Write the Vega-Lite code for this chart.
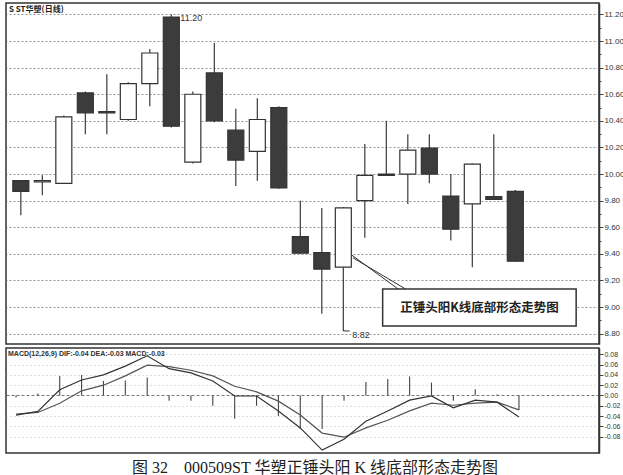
{
  "$schema": "https://vega.github.io/schema/vega-lite/v6.json",
  "background": "white",
  "padding": {"left": 5, "top": 2, "right": 0, "bottom": 0},
  "spacing": 2,
  "config": {
    "font": "Liberation Sans",
    "view": {"stroke": "#333", "strokeWidth": 1.5},
    "axis": {"labelColor": "#333", "labelFontSize": 8, "domainColor": "#333", "domainWidth": 1.5, "tickColor": "#444", "labelPadding": 1}
  },
  "title": {
    "text": "图 32　000509ST 华塑正锤头阳 K 线底部形态走势图",
    "orient": "bottom",
    "anchor": "middle",
    "font": "Liberation Serif, Noto Sans CJK SC",
    "fontSize": 16,
    "fontWeight": "normal",
    "color": "#222",
    "offset": 6
  },
  "datasets": {
    "k": [
      {"i": 1, "open": 9.95, "high": 9.95, "low": 9.69, "close": 9.87, "dif": -0.038, "dea": -0.036, "macd": -0.004},
      {"i": 2, "open": 9.94, "high": 9.99, "low": 9.84, "close": 9.95, "dif": -0.031, "dea": -0.033, "macd": 0.004},
      {"i": 3, "open": 9.93, "high": 10.44, "low": 9.93, "close": 10.43, "dif": 0.011, "dea": -0.015, "macd": 0.038},
      {"i": 4, "open": 10.61, "high": 10.62, "low": 10.30, "close": 10.46, "dif": 0.030, "dea": 0.009, "macd": 0.040},
      {"i": 5, "open": 10.47, "high": 10.75, "low": 10.30, "close": 10.46, "dif": 0.040, "dea": 0.020, "macd": 0.028},
      {"i": 6, "open": 10.41, "high": 10.69, "low": 10.40, "close": 10.68, "dif": 0.057, "dea": 0.038, "macd": 0.029},
      {"i": 7, "open": 10.68, "high": 10.94, "low": 10.51, "close": 10.91, "dif": 0.077, "dea": 0.059, "macd": 0.035},
      {"i": 8, "open": 11.18, "high": 11.20, "low": 10.35, "close": 10.36, "dif": 0.052, "dea": 0.056, "macd": -0.010},
      {"i": 9, "open": 10.09, "high": 10.62, "low": 10.08, "close": 10.60, "dif": 0.044, "dea": 0.049, "macd": -0.010},
      {"i": 10, "open": 10.76, "high": 10.985, "low": 10.39, "close": 10.40, "dif": 0.028, "dea": 0.038, "macd": -0.020},
      {"i": 11, "open": 10.33, "high": 10.49, "low": 9.91, "close": 10.105, "dif": -0.001, "dea": 0.018, "macd": -0.045},
      {"i": 12, "open": 10.17, "high": 10.57, "low": 9.95, "close": 10.41, "dif": -0.001, "dea": 0.007, "macd": -0.020},
      {"i": 13, "open": 10.50, "high": 10.51, "low": 9.89, "close": 9.895, "dif": -0.030, "dea": -0.011, "macd": -0.040},
      {"i": 14, "open": 9.53, "high": 9.80, "low": 9.40, "close": 9.405, "dif": -0.063, "dea": -0.038, "macd": -0.065},
      {"i": 15, "open": 9.41, "high": 9.745, "low": 8.95, "close": 9.285, "dif": -0.106, "dea": -0.073, "macd": -0.065},
      {"i": 16, "open": 9.30, "high": 9.75, "low": 8.82, "close": 9.745, "dif": -0.085, "dea": -0.081, "macd": -0.010},
      {"i": 17, "open": 9.80, "high": 10.225, "low": 9.52, "close": 9.99, "dif": -0.050, "dea": -0.063, "macd": 0.026},
      {"i": 18, "open": 9.99, "high": 10.40, "low": 9.99, "close": 10.00, "dif": -0.030, "dea": -0.048, "macd": 0.032},
      {"i": 19, "open": 10.00, "high": 10.30, "low": 9.775, "close": 10.18, "dif": -0.009, "dea": -0.030, "macd": 0.037},
      {"i": 20, "open": 10.195, "high": 10.30, "low": 9.93, "close": 10.00, "dif": -0.001, "dea": -0.015, "macd": 0.025},
      {"i": 21, "open": 9.835, "high": 10.00, "low": 9.50, "close": 9.585, "dif": -0.024, "dea": -0.019, "macd": -0.010},
      {"i": 22, "open": 9.775, "high": 10.08, "low": 9.30, "close": 10.075, "dif": -0.009, "dea": -0.015, "macd": 0.012},
      {"i": 23, "open": 9.83, "high": 10.30, "low": 9.81, "close": 9.81, "dif": -0.013, "dea": -0.013, "macd": 0.002},
      {"i": 24, "open": 9.87, "high": 9.88, "low": 9.34, "close": 9.345, "dif": -0.042, "dea": -0.028, "macd": -0.028}
    ],
    "callout": [
      {"x1": 16.40, "y1": 9.39, "x2": 18.55, "y2": 9.135},
      {"x1": 16.45, "y1": 9.37, "x2": 18.90, "y2": 9.135}
    ],
    "box": [
      {"x1": 17.83, "x2": 26.83, "y1": 9.135, "y2": 8.857, "xm": 22.33, "ym": 8.996, "label": "正锤头阳K线底部形态走势图"}
    ],
    "marks": [
      {"i": 8, "price": 11.20, "label": "11.20", "i2": 8},
      {"i": 16, "price": 8.82, "label": "8.82", "i2": 16.3}
    ]
  },
  "vconcat": [
    {
      "width": 593,
      "height": 341,
      "title": {"text": "S ST华塑(日线)", "anchor": "start", "orient": "top", "offset": -11, "fontSize": 8, "font": "Noto Sans CJK SC", "fontWeight": "bold", "color": "#222", "dx": 3},
      "layer": [
        {
          "data": {"name": "k"},
          "mark": {"type": "rule", "color": "#3a3a3a", "strokeWidth": 1.2},
          "encoding": {
            "x": {"field": "i", "type": "quantitative", "scale": {"domain": [0.543, 27.66], "nice": false, "zero": false}, "axis": null},
            "y": {
              "field": "low", "type": "quantitative",
              "scale": {"domain": [8.722, 11.286], "nice": false, "zero": false},
              "axis": {
                "orient": "right", "title": null,
                "values": [8.8, 8.9, 9.0, 9.1, 9.2, 9.3, 9.4, 9.5, 9.6, 9.7, 9.8, 9.9, 10.0, 10.1, 10.2, 10.3, 10.4, 10.5, 10.6, 10.7, 10.8, 10.9, 11.0, 11.1, 11.2],
                "tickCount": 100,
                "labelExpr": "round(datum.value*10)%2==0 ? format(datum.value, '.2f') : ''",
                "labelOverlap": false,
                "labelBound": false,
                "grid": true,
                "gridColor": "#777",
                "gridDash": [2, 2],
                "gridWidth": 0.8,
                "gridOpacity": {"condition": {"test": "round(datum.value*10)%2==0", "value": 1}, "value": 0},
                "tickSize": {"condition": {"test": "round(datum.value*10)%2==0", "value": 4}, "value": 2}
              }
            },
            "y2": {"field": "high"}
          }
        },
        {
          "data": {"name": "k"},
          "mark": {"type": "bar", "size": 16, "stroke": "#333", "strokeWidth": 1.2},
          "encoding": {
            "x": {"field": "i", "type": "quantitative"},
            "y": {"field": "open", "type": "quantitative"},
            "y2": {"field": "close"},
            "fill": {"condition": {"test": "datum.close >= datum.open", "value": "white"}, "value": "#3c3c3c"}
          }
        },
        {
          "data": {"name": "callout"},
          "mark": {"type": "rule", "color": "#333", "strokeWidth": 1},
          "encoding": {
            "x": {"field": "x1", "type": "quantitative"},
            "y": {"field": "y1", "type": "quantitative"},
            "x2": {"field": "x2"},
            "y2": {"field": "y2"}
          }
        },
        {
          "data": {"name": "box"},
          "mark": {"type": "rect", "fill": "white", "stroke": "#333", "strokeWidth": 1.5},
          "encoding": {
            "x": {"field": "x1", "type": "quantitative"},
            "x2": {"field": "x2"},
            "y": {"field": "y1", "type": "quantitative"},
            "y2": {"field": "y2"}
          }
        },
        {
          "data": {"name": "box"},
          "mark": {"type": "text", "font": "Noto Sans CJK SC", "fontWeight": "bold", "fontSize": 12.5, "color": "#222", "align": "center", "baseline": "middle"},
          "encoding": {
            "x": {"field": "xm", "type": "quantitative"},
            "y": {"field": "ym", "type": "quantitative"},
            "text": {"field": "label"}
          }
        },
        {
          "data": {"name": "marks"},
          "mark": {"type": "rule", "color": "#333", "strokeWidth": 1},
          "encoding": {
            "x": {"field": "i", "type": "quantitative"},
            "x2": {"field": "i2"},
            "y": {"field": "price", "type": "quantitative"}
          }
        },
        {
          "data": {"name": "marks"},
          "mark": {"type": "text", "fontSize": 9, "color": "#333", "align": "left", "baseline": "middle", "dx": 9, "dy": 4},
          "encoding": {
            "x": {"field": "i", "type": "quantitative"},
            "y": {"field": "price", "type": "quantitative"},
            "text": {"field": "label"}
          }
        }
      ]
    },
    {
      "width": 593,
      "height": 105,
      "title": {"text": "MACD(12,26,9)  DIF:-0.04  DEA:-0.03  MACD:-0.03", "anchor": "start", "orient": "top", "offset": -9, "fontSize": 7, "fontWeight": "bold", "color": "#333", "dx": 2},
      "data": {"name": "k"},
      "encoding": {
        "x": {"field": "i", "type": "quantitative", "scale": {"domain": [0.543, 27.66], "nice": false, "zero": false}, "axis": null}
      },
      "layer": [
        {
          "mark": {"type": "rule", "color": "#444", "strokeWidth": 1.1},
          "encoding": {
            "y": {
              "field": "macd", "type": "quantitative",
              "scale": {"domain": [-0.1117, 0.0922], "nice": false, "zero": false},
              "axis": {
                "orient": "right", "title": null,
                "values": [-0.08, -0.06, -0.04, -0.02, 0, 0.02, 0.04, 0.06, 0.08],
                "tickCount": 100,
                "labelExpr": "replace(format(datum.value, '.2f'), '−', '-')",
                "labelOverlap": false,
                "labelBound": false,
                "labelFontSize": 7,
                "tickSize": 4,
                "grid": true,
                "gridColor": {"condition": {"test": "datum.value == 0", "value": "#555"}, "value": "#aaa"},
                "gridDash": {"condition": {"test": "datum.value == 0", "value": [3, 2]}, "value": [1, 3]},
                "gridWidth": 0.8
              }
            },
            "y2": {"datum": 0}
          }
        },
        {
          "mark": {"type": "line", "color": "#555", "strokeWidth": 1.2},
          "encoding": {"y": {"field": "dea", "type": "quantitative"}}
        },
        {
          "mark": {"type": "line", "color": "#333", "strokeWidth": 1.2},
          "encoding": {"y": {"field": "dif", "type": "quantitative"}}
        }
      ]
    }
  ]
}
